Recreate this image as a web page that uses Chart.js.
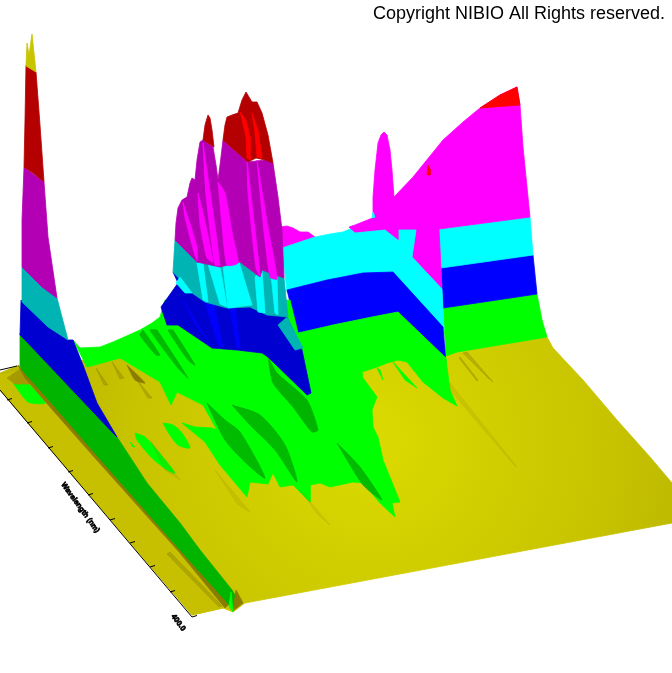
<!DOCTYPE html>
<html><head><meta charset="utf-8">
<style>html,body{margin:0;padding:0;background:#fff}canvas{display:block}</style>
<script src="https://cdn.jsdelivr.net/npm/chart.js@4"></script>
</head><body>
<canvas id="c" width="672" height="673"></canvas>
<script>
// Surface regions, as [x, y] values on the view scales.
const floorBase=[[0,373],[17,366],[85,360],[300,345],[446,345],[547,337],[553,348],[583,380],[617,420],[650,457],[672,483],[672,523],[245,603],[233,612],[223,608],[192,615],[0,390]];
const frontStrip=[[0,375],[22,370],[100,459],[187,558],[230,603],[223,608],[192,615],[0,390]];
const cornerPatch=[[13,383],[27,383],[45,403],[28,402]];
const cornerBrown=[[7,378],[20,369],[30,384],[15,384]];
const wallGreen=[[443,307],[537,294],[542,320],[547,337],[457,352],[446,356]];
const wallBlue=[[441,267],[533,255],[537,294],[443,308]];
const wallCyan=[[439,229],[530,217],[533,255],[441,268]];
const wallMagenta=[[373,212],[373,197],[375,170],[378,143],[381,135],[384,132],[387,135],[390,150],[392,170],[394,197],[413,177],[443,140],[463,122],[480,108],[500,95],[517,87],[520,105],[523,147],[527,187],[530,217],[439,229],[442,289],[412,257],[416,230],[399,230],[399,241],[385,230],[355,233],[349,227],[355,225],[375,217]];
const wallRed=[[480,108],[500,95],[517,87],[520,105]];
const redFleck=[[428,165],[430,169],[430,175],[427,175]];
const backMagenta=[[280,227],[287,226],[293,228],[300,232],[308,232],[315,237],[300,242],[282,250]];
const midCyan=[[282,248],[300,242],[315,237],[330,234],[343,232],[350,229],[355,233],[385,230],[399,241],[399,230],[416,230],[412,257],[442,289],[444,330],[393,272],[363,273],[327,280],[287,292]];
const sideCyan=[[373,212],[375,217],[372,218]];
const midBlue=[[287,290],[327,280],[363,273],[393,272],[443,327],[446,364],[398,312],[372,317],[333,325],[298,335]];
const greenField=[[73,340],[80,348],[100,347],[113,342],[140,330],[152,323],[160,317],[165,300],[290,300],[298,333],[333,325],[372,317],[398,312],[446,358],[447,367],[450,390],[457,406],[443,398],[423,382],[407,362],[398,360],[387,363],[377,367],[362,372],[363,378],[377,397],[372,410],[373,427],[378,437],[383,460],[400,502],[392,503],[395,517],[380,503],[363,483],[353,482],[330,487],[320,483],[310,485],[310,502],[293,485],[280,487],[273,473],[268,484],[250,482],[247,497],[220,465],[205,442],[182,423],[195,427],[212,428],[217,430],[203,405],[187,397],[177,392],[171,405],[160,382],[120,358],[87,367]];
const patchA=[[135,433],[145,437],[157,450],[175,473],[167,470],[152,458],[137,440]];
const patchB=[[163,423],[173,425],[182,433],[190,448],[178,445],[168,432]];
const patchC=[[130,442],[135,447],[133,447]];
const stripeA=[[207,403],[225,420],[240,432],[265,478],[245,462],[225,440]];
const stripeB=[[232,405],[260,415],[285,445],[297,482],[275,450],[250,425]];
const stripeC=[[143,330],[160,355],[156,355],[140,335]];
const stripeD=[[157,330],[188,378],[178,368],[150,330]];
const stripeE=[[173,330],[195,365],[188,360],[168,330]];
const stripeF=[[268,357],[277,373],[307,400],[318,430],[312,432],[293,407],[273,383]];
const stripeG=[[337,443],[360,467],[382,500],[363,485]];
const notchA=[[393,362],[417,388],[405,380]];
const notchB=[[377,368],[383,380],[380,370]];
const endGreen=[[231,592],[233,612],[229,606]];
const endBrown=[[236,590],[243,603],[233,611]];
const spikeTip=[[26,66],[27,43],[29,55],[32,34],[34,53],[36,72]];
const spikeRed=[[26,65],[36,72],[40,125],[44,182],[33,173],[24,167],[25,120]];
const spikeMagenta=[[24,167],[44,182],[48,237],[57,298],[42,287],[22,267],[22,220]];
const spikeCyan=[[22,267],[57,298],[68,340],[48,327],[22,302]];
const spikeBlue=[[21,300],[48,325],[68,340],[73,340],[83,365],[97,403],[117,437],[112,432],[25,340],[20,335]];
const spikeGreen=[[20,333],[25,340],[117,437],[147,483],[180,523],[200,550],[232,590],[240,603],[232,608],[173,542],[100,459],[55,407],[22,370],[20,365]];
const spikeShadow=[[18,365],[55,403],[100,456],[187,554],[230,603],[225,608],[180,553],[95,458],[50,407],[25,378]];
const frontStreak=[[170,552],[222,606],[219,607],[167,554]];
const hillBlue=[[173,272],[178,283],[161,307],[167,325],[178,325],[212,348],[237,350],[262,353],[268,357],[307,395],[311,393],[302,350],[287,317],[260,300],[227,300],[205,295],[185,280]];
const hillCyan=[[175,240],[197,262],[220,267],[240,262],[260,277],[262,270],[284,278],[288,317],[267,315],[250,307],[227,308],[205,302],[192,293],[173,272]];
const hillMagenta=[[175,240],[176,223],[178,208],[182,200],[187,197],[190,183],[192,178],[195,180],[197,160],[200,142],[203,140],[213,147],[216,165],[218,180],[220,165],[223,140],[248,162],[265,160],[273,163],[278,197],[282,230],[284,278],[262,270],[260,277],[240,262],[220,267],[197,262]];
const hillRedLeft=[[203,140],[205,125],[208,115],[210,118],[212,130],[214,147]];
const hillRedRight=[[223,140],[225,125],[227,117],[232,115],[238,113],[242,100],[246,92],[252,102],[257,102],[262,113],[268,135],[273,163],[265,160],[256,158],[248,162]];
const redStripeA=[[240,112],[246,120],[250,137],[250,160],[247,158],[246,137],[242,120]];
const redStripeB=[[252,113],[258,130],[262,158],[257,157],[255,133]];
const pinkA=[[218,182],[225,193],[233,237],[238,263],[227,265],[222,225]];
const pinkB=[[183,202],[197,247],[197,261],[192,245],[185,217]];
const pinkC=[[198,193],[203,213],[213,262],[207,258],[200,223]];
const pinkD=[[203,143],[220,265],[215,265],[206,195]];
const pinkE=[[247,160],[253,213],[260,276],[256,268],[248,193]];
const pinkF=[[257,160],[268,227],[277,279],[270,277],[262,213]];
const aquaA=[[223,266],[239,262],[252,305],[228,308]];
const aquaB=[[197,263],[203,263],[208,302],[203,300]];
const aquaC=[[208,264],[220,266],[227,307],[220,304]];
const aquaD=[[271,275],[277,278],[278,315],[275,313]];
const aquaE=[[180,277],[192,293],[185,293],[176,283]];
const aquaF=[[255,277],[262,270],[265,313],[258,312]];
const blueRibA=[[183,300],[205,337],[212,346],[196,325]];
const blueRibB=[[205,302],[218,345],[223,347],[214,305]];
const blueRibC=[[230,308],[237,348],[240,348],[235,308]];
const hillPatch=[[278,325],[287,317],[303,348],[295,350]];
const brownA=[[127,365],[145,383],[135,380]];
const brownB=[[112,362],[124,378],[120,379]];
const brownC=[[96,368],[108,385],[104,385]];
const brownD=[[137,380],[152,398],[148,398]];
const streakA=[[467,352],[493,382],[488,378],[463,353]];
const streakB=[[460,357],[478,380],[477,381],[459,358]];
const streakC=[[450,383],[517,467],[514,465],[450,390]];
const streakD=[[150,440],[180,480],[165,470]];
const streakE=[[215,470],[250,512],[238,505]];
const streakF=[[300,490],[330,525],[318,515]];
const axisX=[0,192];
const axisY=[390,617];
const tickPosX=[7,27,48,68,88,110,130,150,170,192];
const tickPosY=[400,423,448,472,495,520,543,567,592,617];
const axisTitle="Wavelength (nm)";
const axisEnd="400.0";
const copyright="Copyright NIBIO All Rights reserved.";

const canvas=document.getElementById('c');
const g=canvas.getContext('2d');
const floorFill=g.createRadialGradient(370,440,30,370,440,320);
floorFill.addColorStop(0,'#d9d800');floorFill.addColorStop(.4,'#cfcc00');floorFill.addColorStop(.7,'#c8c400');floorFill.addColorStop(1,'#bdb900');

const Y='#c8c400',G='#00ff00',DG='#00b400',SG='rgba(0,170,0,.8)',B='#0000ff',DB='#0000d0',C='#00ffff',DC='#00b4b4',M='#ff00ff',DM='#b400b4',R='#ff0000',DR='#b40000',BR='#8a7c00',SH='rgba(120,110,0,.3)',SL='rgba(120,110,0,.12)';
const layers=[
 [floorBase,floorFill],[frontStrip,'#c6c000'],[cornerPatch,G,.2],[cornerBrown,'#a59a00'],
 [wallGreen,G],[wallBlue,B],[wallCyan,C],[wallMagenta,M],[wallRed,R],[redFleck,R],
 [backMagenta,M],[midCyan,C],[sideCyan,C],[midBlue,B],
 [greenField,G],[patchA,G,.25],[patchB,G,.25],[patchC,G],
 [stripeA,SG,.25],[stripeB,SG,.25],[stripeC,SG,.2],[stripeD,SG,.2],[stripeE,SG,.2],[stripeF,DG,.2],[stripeG,SG,.2],[notchA,G],[notchB,G],
 [brownA,BR,.2],[brownB,SH],[brownC,SH],[brownD,SH],[streakA,SH],[streakB,SH],[streakC,SL],[streakD,SL],[streakE,SL],[streakF,SL],
 [hillBlue,DB],[blueRibA,B],[blueRibB,B],[blueRibC,B],[hillCyan,DC],[aquaA,C],[aquaB,C],[aquaC,C],[aquaD,C],[aquaE,C],[aquaF,C],[hillPatch,DC],
 [hillMagenta,DM],[pinkA,M,.2],[pinkB,M,.2],[pinkC,M,.2],[pinkD,M,.2],[pinkE,M,.2],[pinkF,M,.2],
 [hillRedLeft,DR],[hillRedRight,DR],[redStripeA,R],[redStripeB,R],
 [spikeShadow,BR],[frontStreak,SH],[spikeGreen,DG],[endBrown,BR],[endGreen,G],[spikeBlue,DB],[spikeCyan,DC],[spikeMagenta,DM],[spikeRed,DR],[spikeTip,Y]
];
const datasets=layers.map(([pts,col,t],i)=>({
 type:'scatter',showLine:true,fill:'shape',tension:t||0,pointRadius:0,
 data:pts.concat([pts[0]]).map(p=>({x:p[0],y:p[1]})),
 backgroundColor:col,borderColor:col,borderWidth:.8,order:layers.length-i+20
}));
datasets.push({type:'scatter',showLine:true,pointRadius:0,borderColor:'#000',borderWidth:1,order:2,
 data:axisX.map((x,i)=>({x,y:axisY[i]}))});
datasets.push({type:'scatter',showLine:true,pointRadius:0,borderColor:'#000',borderWidth:1,order:1,
 data:[{x:0,y:370},{x:17,y:366}]});
tickPosX.forEach((x,i)=>datasets.push({type:'scatter',showLine:true,pointRadius:0,borderColor:'#000',borderWidth:1,order:0,
 data:[{x,y:tickPosY[i]},{x:x+5,y:tickPosY[i]-1.5}]}));

const textPlugin={id:'text',afterDraw(ch){
 const c=ch.ctx,sx=ch.scales.x,sy=ch.scales.y;
 c.save();c.fillStyle='#000';c.textBaseline='alphabetic';
 c.font='18px "Liberation Sans"';c.textAlign='right';
 c.fillText(copyright,sx.getPixelForValue(665),sy.getPixelForValue(19));
 const rot=(txt,x,y)=>{c.save();c.font='bold 7.5px "Liberation Sans"';c.textAlign='center';c.lineWidth=.7;c.strokeStyle='#000';
  c.translate(sx.getPixelForValue(x),sy.getPixelForValue(y));c.rotate(54*Math.PI/180);
  c.strokeText(txt,0,3);c.fillText(txt,0,3);c.restore();};
 rot(axisTitle,81,507);rot(axisEnd,179,622);
 c.restore();
}};
new Chart(canvas,{type:'scatter',data:{datasets},plugins:[textPlugin],options:{
 responsive:false,animation:false,events:[],
 layout:{padding:0},
 plugins:{legend:{display:false},tooltip:{enabled:false},title:{display:false}},
 scales:{x:{type:'linear',min:0,max:672,display:false},y:{type:'linear',min:0,max:673,reverse:true,display:false}}
}});
</script></body></html>
